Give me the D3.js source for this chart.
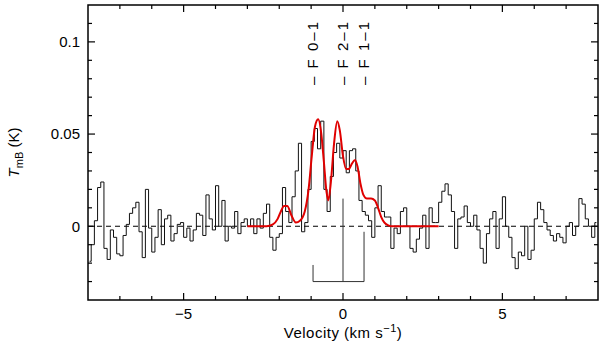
<!DOCTYPE html>
<html>
<head>
<meta charset="utf-8">
<script src="https://cdn.jsdelivr.net/npm/d3@7"></script>
<style>
  body { margin: 0; background: #fff; }
  text { font-family: "Liberation Sans", Arial, sans-serif; }
</style>
</head>
<body>
<div id="mychart"></div>
<script>
// observed spectrum, 0.1 km/s channels starting at -8 km/s
const chanStart = -8.0;
const chanWidth = 0.1;
const tmb = [
  -0.019, -0.010, 0.003, 0.021, 0.024, -0.012, -0.018, -0.002, -0.006, -0.015,
  -0.016, -0.005, 0.001, 0.007, 0.010, 0.013, -0.003, -0.017, 0.020, -0.001,
  -0.014, -0.006, 0.009, -0.010, 0.004, 0.006, -0.008, -0.004, 0.001, 0.002,
  -0.006, -0.001,
  -0.008, -0.002, 0.007, 0.006, -0.005, 0.017, 0.004, -0.002, 0.022, 0.000,
  0.014, -0.008, 0.000, -0.001, 0.008, -0.004, 0.002, 0.004, 0.000, 0.004,
  -0.004, 0.004, -0.001, 0.007, 0.012, -0.006, -0.013, -0.006, -0.004, 0.021,
  0.008,
  0.002, 0.016, 0.030, 0.045, -0.003, 0.002, 0.020, 0.046, 0.053, 0.042,
  0.057, 0.020, 0.008, 0.027, 0.040, 0.045, 0.037, 0.041, 0.029, 0.041,
  0.042, 0.030, 0.014, 0.008, 0.006, 0.003, -0.006, 0.010, 0.022, 0.008,
  0.005,
  0.005, -0.012, -0.001, -0.004, 0.008, 0.010, 0.000, -0.012, -0.014, -0.007,
  -0.001, 0.006, -0.012, 0.010, 0.002, 0.002, 0.013, 0.019, 0.023, 0.017,
  0.008, -0.012, 0.004, 0.005, 0.011, 0.002, 0.000, 0.006, -0.002, -0.012,
  -0.020, -0.004, 0.004,
  0.008, -0.012, 0.004, 0.016, 0.000, -0.006, -0.017, -0.023, -0.014, -0.016,
  0.000, -0.018, -0.013, 0.004, 0.013, 0.009, 0.002, -0.002, -0.005, -0.008,
  -0.004, -0.006, -0.009, 0.000, 0.002, -0.005, 0.000, 0.015, 0.012, 0.004,
  0.000, -0.006, 0.002
];

// hyperfine fit
const fitVel = [-3.0, -2.4, -2.2, -2.05, -1.95, -1.85, -1.75, -1.62, -1.48, -1.35,
  -1.2, -1.08, -0.98, -0.88, -0.78, -0.68, -0.6, -0.52, -0.46, -0.38, -0.28,
  -0.18, -0.1, 0.0, 0.1, 0.18, 0.28, 0.38, 0.46, 0.55, 0.64, 0.75, 0.88, 1.0,
  1.1, 1.2, 1.3, 1.42, 1.55, 3.0];
const fitT = [0, 0, 0.001, 0.004, 0.008, 0.011, 0.011, 0.006, 0.002, 0.003,
  0.008, 0.020, 0.038, 0.054, 0.058, 0.050, 0.035, 0.019, 0.014, 0.024, 0.045,
  0.057, 0.052, 0.038, 0.031, 0.031, 0.034, 0.036, 0.032, 0.023, 0.017, 0.015, 0.015, 0.014,
  0.010, 0.005, 0.002, 0.0005, 0, 0];

// hyperfine components
const hfsVel = [-0.94, 0, 0.66];
const hfsRel = [1, 5, 3];
const hfsLabel = ["\u2013 F 0\u20131", "\u2013 F 2\u20131", "\u2013 F 1\u20131"];

const xTicks = [-5, 0, 5];
const yTicks = [0, 0.05, 0.1];

const width = 600, height = 341;
const margin = { left: 88, right: 2, top: 5, bottom: 41 };

const x = d3.scaleLinear().domain([-8, 8]).range([margin.left, width - margin.right]);
const y = d3.scaleLinear().domain([-0.04, 0.12]).range([height - margin.bottom, margin.top]);

const svg = d3.select("#mychart")
  .append("svg")
    .attr("width", width)
    .attr("height", height);

svg.append("clipPath").attr("id", "clip")
  .append("rect")
    .attr("x", x(-8)).attr("y", y(0.12))
    .attr("width", x(8) - x(-8)).attr("height", y(-0.04) - y(0.12));

const plot = svg.append("g").attr("clip-path", "url(#clip)");

// zero line
plot.append("line")
  .attr("x1", x(-8)).attr("x2", x(8))
  .attr("y1", y(0)).attr("y2", y(0))
  .attr("stroke", "#000")
  .attr("stroke-width", 1.2)
  .attr("stroke-dasharray", "5,4");

// spectrum histogram
const spec = tmb.map((t, i) => [chanStart + chanWidth * (i + 0.5), t]);
plot.append("path")
  .datum(spec)
  .attr("fill", "none")
  .attr("stroke", "#111")
  .attr("stroke-width", 1)
  .attr("d", d3.line()
    .x(d => x(d[0]))
    .y(d => y(d[1]))
    .curve(d3.curveStep));

// fit
plot.append("path")
  .datum(fitVel.map((v, i) => [v, fitT[i]]))
  .attr("fill", "none")
  .attr("stroke", "#e00000")
  .attr("stroke-width", 2)
  .attr("d", d3.line()
    .x(d => x(d[0]))
    .y(d => y(d[1]))
    .curve(d3.curveMonotoneX));

// hyperfine stick markers
const base = -0.030, perUnit = 0.009;
const hfs = svg.append("g").attr("stroke", "#333").attr("stroke-width", 1);
hfs.selectAll("line.stick")
  .data(hfsVel)
  .join("line")
    .attr("class", "stick")
    .attr("x1", d => x(d)).attr("x2", d => x(d))
    .attr("y1", y(base))
    .attr("y2", (d, i) => y(base + perUnit * hfsRel[i]));
hfs.append("line")
  .attr("x1", x(d3.min(hfsVel))).attr("x2", x(d3.max(hfsVel)))
  .attr("y1", y(base)).attr("y2", y(base));

// hyperfine labels
svg.append("g")
  .selectAll("text")
  .data(hfsVel)
  .join("text")
    .attr("transform", d => `translate(${x(d)},85) rotate(-90)`)
    .attr("dy", "0.35em")
    .attr("font-size", 15)
    .attr("textLength", 63)
    .attr("lengthAdjust", "spacing")
    .text((d, i) => hfsLabel[i]);

// frame
svg.append("rect")
  .attr("x", x(-8)).attr("y", y(0.12))
  .attr("width", x(8) - x(-8)).attr("height", y(-0.04) - y(0.12))
  .attr("fill", "none")
  .attr("stroke", "#000")
  .attr("stroke-width", 1.5);

// ticks (inward, all four sides)
const ticks = svg.append("g").attr("stroke", "#000").attr("stroke-width", 1.2);
const xMinor = d3.range(-7, 8, 1);
const yMinor = d3.range(-0.03, 0.12, 0.01);
const isMajX = v => Math.abs(v % 5) < 1e-9;
const isMajY = v => Math.abs(Math.round(v * 100) % 5) === 0;

xMinor.forEach(v => {
  const len = isMajX(v) ? 7 : 4;
  ticks.append("line").attr("x1", x(v)).attr("x2", x(v))
    .attr("y1", y(-0.04)).attr("y2", y(-0.04) - len);
  ticks.append("line").attr("x1", x(v)).attr("x2", x(v))
    .attr("y1", y(0.12)).attr("y2", y(0.12) + len);
});
yMinor.forEach(v => {
  const len = isMajY(v) ? 7 : 4;
  ticks.append("line").attr("y1", y(v)).attr("y2", y(v))
    .attr("x1", x(-8)).attr("x2", x(-8) + len);
  ticks.append("line").attr("y1", y(v)).attr("y2", y(v))
    .attr("x1", x(8)).attr("x2", x(8) - len);
});

// tick labels
svg.append("g")
  .selectAll("text")
  .data(xTicks)
  .join("text")
    .attr("x", d => x(d))
    .attr("y", 319)
    .attr("text-anchor", "middle")
    .attr("font-size", 15)
    .text(d => d < 0 ? "\u2212" + Math.abs(d) : d);

svg.append("g")
  .selectAll("text")
  .data(yTicks)
  .join("text")
    .attr("x", 80)
    .attr("y", d => y(d))
    .attr("dy", "0.35em")
    .attr("text-anchor", "end")
    .attr("font-size", 15)
    .text(d => d);

// axis titles
const xt = svg.append("text")
  .attr("x", x(0))
  .attr("y", 338)
  .attr("text-anchor", "middle")
  .attr("font-size", 15)
  .attr("letter-spacing", 0.5);
xt.append("tspan").text("Velocity (km s");
xt.append("tspan").attr("dy", -6).attr("font-size", 11).text("\u22121");
xt.append("tspan").attr("dy", 6).text(")");

const yt = svg.append("text")
  .attr("transform", `translate(19,${y(0.04)}) rotate(-90)`)
  .attr("text-anchor", "middle")
  .attr("font-size", 15);
yt.append("tspan").attr("font-style", "italic").text("T");
yt.append("tspan").attr("dy", 4).attr("font-size", 11).text("mB");
yt.append("tspan").attr("dy", -4).text(" (K)");
</script>
</body>
</html>
